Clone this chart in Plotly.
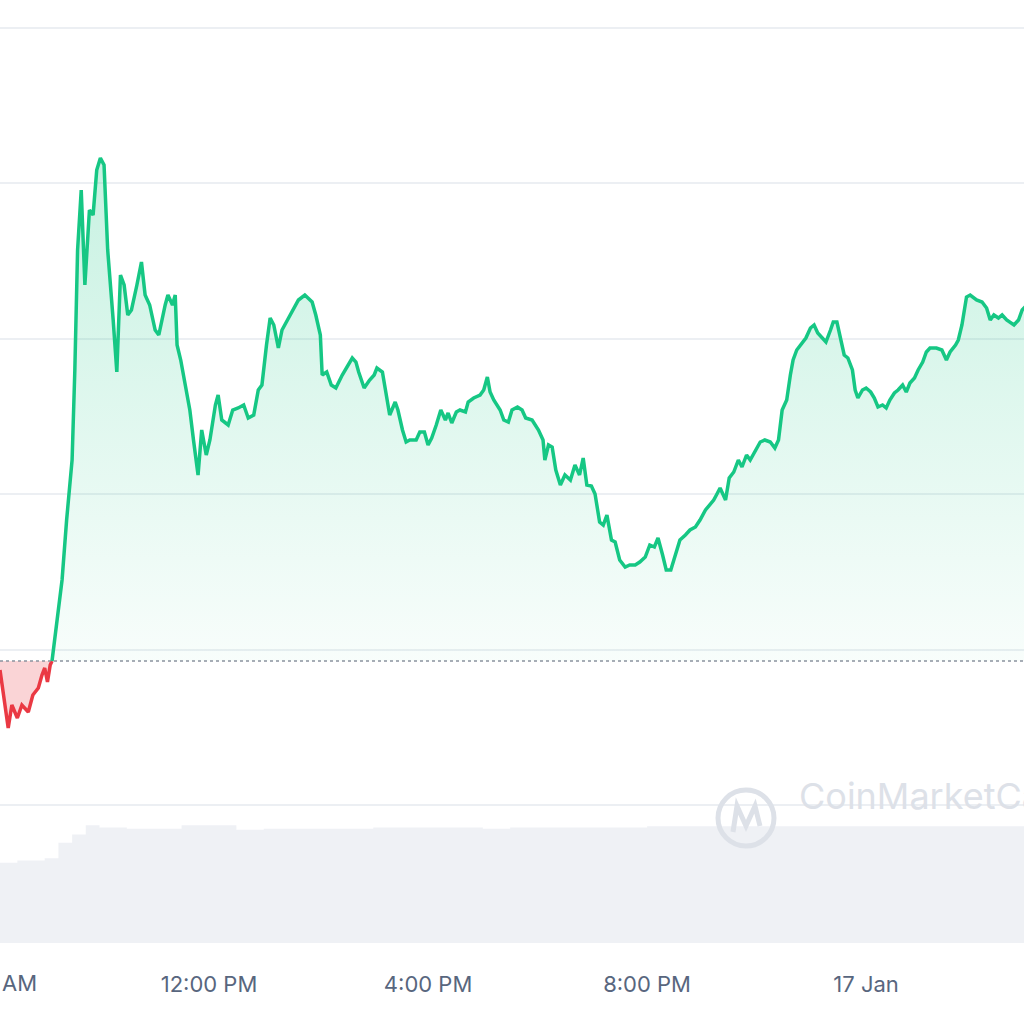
import datetime as dt
import plotly.graph_objects as go

START = dt.datetime(2024, 1, 16, 8, 0)
BASELINE = 0.544

red_t = [11, 14, 20, 24, 30, 35, 42, 47, 53, 57, 60, 63, 66, 68]
red_p = [.535, .515, .477, .500, .487, .500, .493, .510, .517, .530, .537, .523, .540, .544]

green_t = [68,
    71, 79, 84, 90, 93, 96, 100, 104, 109, 113,
    117, 121, 125, 129, 135, 139, 143, 147, 151, 155,
    161, 166, 170, 175, 181, 185, 192, 195, 200, 203,
    205, 209, 214, 219, 223, 228, 232, 237, 241, 247,
    250, 254, 261, 266, 272, 278, 283, 289, 294, 298,
    303, 307, 311, 316, 320, 326, 331, 338, 345, 353,
    357, 362, 364, 369, 374, 379, 386, 392, 397, 401,
    404, 410, 416, 421, 424, 430, 434, 438, 444, 447,
    452, 456, 460, 467, 471, 476, 480, 484, 489, 494,
    499, 502, 506, 511, 515, 521, 524, 530, 537, 541,
    545, 548, 552, 559, 563, 568, 572, 578, 583, 587,
    594, 601, 606, 608, 612, 616, 620, 625, 630, 636,
    641, 646, 650, 654, 659, 663, 668, 672, 676, 681,
    685, 690, 696, 701, 707, 712, 718, 723, 728, 732,
    737, 741, 746, 751, 756, 762, 767, 773, 778, 784,
    789, 793, 796, 800, 806, 810, 815, 820, 824, 829,
    833, 839, 844, 849, 855, 860, 864, 868, 873, 877,
    880, 884, 890, 894, 899, 903, 907, 912, 916, 921,
    924, 928, 932, 936, 940, 945, 948, 951, 956, 960,
    965, 969, 973, 978, 982, 986, 991, 995, 1000, 1004,
    1008, 1013, 1017, 1022, 1026, 1030, 1037, 1043, 1048, 1052,
    1058, 1061, 1065, 1070, 1074, 1081, 1087, 1092, 1096, 1100,
    1105, 1109, 1114, 1118, 1122, 1127, 1131, 1136]
green_p = [.544,
    .565, .625, .685, .745, .835, .955, 1.015, .920, .995, .990,
    1.035, 1.047, 1.040, .955, .885, .833, .930, .920, .890, .895,
    .920, .943, .910, .900, .875, .870, .900, .910, .900, .910,
    .860, .845, .820, .795, .765, .730, .775, .750, .765, .800,
    .810, .785, .780, .795, .797, .800, .787, .790, .815, .820,
    .860, .887, .880, .857, .875, .885, .895, .905, .910, .903,
    .890, .870, .830, .833, .820, .817, .830, .840, .847, .843,
    .833, .817, .825, .830, .837, .833, .810, .790, .803, .795,
    .775, .763, .765, .765, .773, .773, .760, .767, .780, .795,
    .785, .792, .782, .793, .795, .793, .803, .807, .810, .815,
    .828, .813, .805, .795, .785, .783, .795, .798, .795, .787,
    .785, .775, .765, .745, .760, .758, .735, .720, .730, .725,
    .740, .730, .747, .720, .719, .711, .683, .680, .690, .665,
    .663, .645, .638, .640, .640, .643, .648, .660, .658, .667,
    .650, .635, .635, .650, .665, .670, .675, .678, .685, .695,
    .700, .705, .710, .717, .705, .727, .733, .745, .738, .750,
    .745, .755, .763, .765, .763, .757, .765, .795, .805, .830,
    .845, .855, .863, .867, .877, .880, .872, .867, .863, .875,
    .883, .883, .867, .850, .847, .835, .815, .807, .815, .817,
    .813, .807, .798, .800, .797, .805, .812, .815, .820, .813,
    .822, .827, .835, .843, .853, .857, .857, .855, .845, .853,
    .860, .865, .880, .908, .910, .905, .903, .897, .885, .890,
    .887, .890, .885, .882, .880, .885, .895, .900]

vol_t = [0, 30, 60, 75, 90, 105, 120, 150, 180, 210, 240, 270, 300, 330, 360, 390,
         420, 450, 480, 510, 540, 570, 600, 630, 660, 690, 720, 750, 780, 810,
         840, 870, 900, 930, 960, 990, 1020, 1050, 1080, 1110, 1140]
vol_v = [0.68, 0.70, 0.72, 0.85, 0.92, 1.0, 0.98, 0.97, 0.97, 1.0, 1.0, 0.96, 0.97, 0.97, 0.97, 0.97,
         0.98, 0.98, 0.98, 0.98, 0.97, 0.98, 0.98, 0.98, 0.98, 0.98, 0.99, 0.99, 0.99, 0.99,
         0.99, 0.99, 0.99, 0.99, 0.99, 0.99, 0.99, 0.99, 0.99, 0.99, 0.99]

tick_t = [240, 480, 720, 960]
tick_text = ["12:00 PM", "4:00 PM", "8:00 PM", "17 Jan"]
first_label = "AM"

def ts(mins):
    return [START + dt.timedelta(minutes=m) for m in mins]

FONT = "Inter, Roboto, sans-serif"
fig = go.Figure()
fig.add_trace(go.Scatter(x=ts(vol_t), y=vol_v, yaxis="y2", mode="lines", line=dict(width=0, shape="hv"),
                         fill="tozeroy", fillcolor="rgba(225,229,236,0.55)", hoverinfo="skip"))
fig.add_trace(go.Scatter(x=ts(red_t), y=[BASELINE]*len(red_t), mode="lines", line=dict(width=0), hoverinfo="skip"))
fig.add_trace(go.Scatter(x=ts(red_t), y=red_p, mode="lines", line=dict(color="#ea3943", width=3.5),
                         fill="tonexty", fillcolor="rgba(234,57,67,0.22)"))
fig.add_trace(go.Scatter(x=ts(green_t), y=[BASELINE]*len(green_t), mode="lines", line=dict(width=0), hoverinfo="skip"))
fig.add_trace(go.Scatter(x=ts(green_t), y=green_p, mode="lines", line=dict(color="#16c784", width=3.5),
                         fill="tonexty",
                         fillgradient=dict(type="vertical",
                                           colorscale=[[0, "rgba(22,199,132,0.03)"], [1, "rgba(22,199,132,0.24)"]])))

fig.add_hline(y=BASELINE, line=dict(color="#8a939f", width=1.5, dash="dot"))

fig.add_annotation(x=0.0, y=0, xref="paper", yref="paper", xanchor="left", yanchor="middle", yshift=-40,
                   text=first_label, showarrow=False, font=dict(family=FONT, size=22, color="#58667e"))
fig.add_annotation(x=797/1024, y=1-820/943, xref="paper", yref="paper", text="CoinMarketCap", showarrow=False,
                   xanchor="left", font=dict(family=FONT, size=36, color="#dde1e8"))
fig.add_shape(type="circle", xref="paper", yref="paper", x0=718/1024, x1=774/1024, y0=1-846/943, y1=1-790/943,
              line=dict(color="#dde1e8", width=5))
fig.add_shape(type="path", xref="paper", yref="paper",
              path=f"M {733/1024} {1-832/943} L {737/1024} {1-806/943} L {746/1024} {1-826/943} "
                   f"L {755/1024} {1-806/943} L {760/1024} {1-826/943}",
              line=dict(color="#dde1e8", width=5))

fig.update_layout(
    width=1024, height=1024, margin=dict(l=0, r=0, t=0, b=81),
    plot_bgcolor="white", paper_bgcolor="white", showlegend=False,
    xaxis=dict(range=ts([11, 1133]), tickvals=ts(tick_t), ticktext=tick_text, showgrid=False,
               zeroline=False, ticks="", ticklabelstandoff=26,
               tickfont=dict(family=FONT, size=22, color="#58667e")),
    yaxis=dict(range=[0.262, 1.205], tick0=0.400, dtick=0.1555, showticklabels=False,
               gridcolor="#eceff3", gridwidth=1.5, zeroline=False),
    yaxis2=dict(range=[0, 8], overlaying="y", showticklabels=False, showgrid=False, zeroline=False),
)
fig.write_html("out.html", config={"displayModeBar": False},
               post_script="document.body.style.margin='0';")
